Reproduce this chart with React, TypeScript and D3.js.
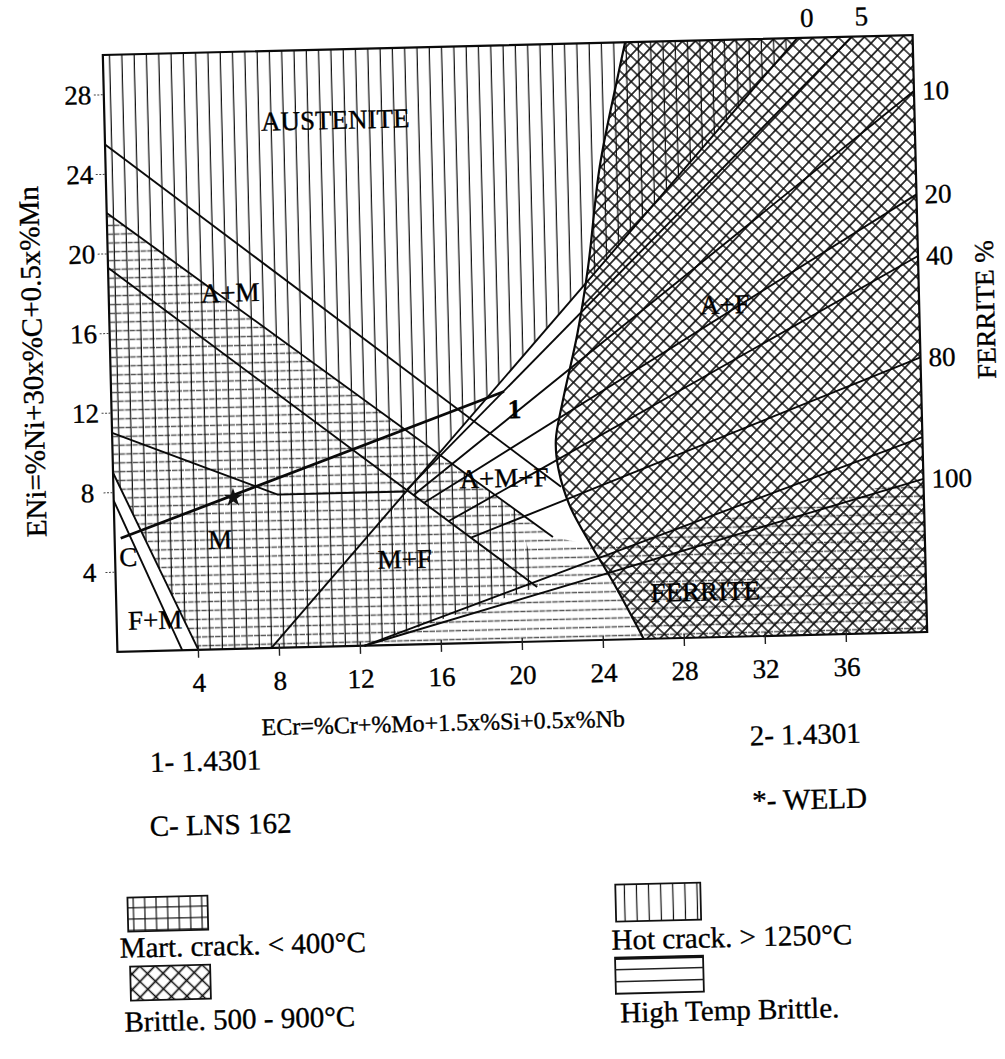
import React, { useRef, useEffect } from 'react';
import * as d3 from 'd3';

// axis ticks
const xTicks = [4, 8, 12, 16, 20, 24, 28, 32, 36];
const yTicks = [4, 8, 12, 16, 20, 24, 28];

// phase boundaries, points as [ECr, ENi]
const austLine = [[0, 25.5], [22.1, 7.75]];
const crackLine = [[0, 22.06], [21.64, 5.23]];
const martLine = [[0, 19.3], [20.8, 2.74]];
const kneeLine = [[0, 11.0], [8.1, 7.7], [14.4, 7.7]];
const fmInner = [[0, 7.6], [3.2, 0]];
const fmOuter = [[0, 9.0], [4.0, 0]];
const bottomLine = [[12.2, 0], [40, 9.8]];

// ferrite % lines
const ferriteLabels = ['0', '5', '10', '20', '40', '80', '100'];
const ferriteFrom = [[7.6, 0], [14.5, 7.8], [14.8, 7.5], [15.3, 7.1], [16.5, 6.15], [17.6, 5.3], [12.2, 0]];
const ferriteTo = [[34.3, 30], [37.0, 30], [40, 27.2], [40, 22.0], [40, 18.9], [40, 13.8], [40, 7.7]];

// hatched zones
const sigmaEdge = [[25.8, 30], [25.4, 28.3], [24.4, 23.8], [23.7, 18.75], [23.1, 15.45], [22.3, 12.1], [21.9, 10.1], [22.0, 8.6], [22.5, 6.8], [23.5, 4.8], [24.5, 3.0], [26, 0]];
const hotZone = [[0, 30], [34.3, 30], [16.09, 9.54], [20.0, 6.5], [20.8, 2.74], [12.2, 0], [4.0, 0], [0, 9.0]];
const martZone = [[0, 22.06], [21.64, 5.23], [23.5, 4.8], [40, 7.7], [40, 0], [4.0, 0], [0, 9.0]];

// weld dilution line C -> 1, weld point
const weldPath = [[0.3, 5.7], [19.4, 12.6]];
const weldPoint = [5.9, 7.6];

const regionNames = ['AUSTENITE', 'A+M', 'A+F', 'A+M+F', 'M', 'M+F', 'C', 'F+M', 'FERRITE', '1'];
const regionAt = [[11.4, 26.45], [6.0, 17.9], [30.4, 16.7], [19.3, 8.25], [5.2, 5.5], [14.3, 4.3], [0.65, 4.75], [1.9, 1.55], [29.1, 2.3], [19.9, 11.7]];

const notes = ['1- 1.4301', '2- 1.4301', 'C- LNS 162', '*- WELD'];
const legendNames = ['Mart. crack. < 400°C', 'Brittle. 500 - 900°C', 'Hot crack. > 1250°C', 'High Temp Brittle.'];

const FONT = '"Liberation Serif", "Times New Roman", serif';

export default function App() {
  const ref = useRef<SVGSVGElement>(null);

  useEffect(() => {
    const svg = d3.select(ref.current);
    svg.selectAll('*').remove();

    const x = d3.scaleLinear().domain([0, 40]).range([110, 920]);
    const y = d3.scaleLinear().domain([0, 30]).range([642, 45]);
    const line = d3.line<number[]>().x(d => x(d[0])).y(d => y(d[1]));
    const smooth = d3.line<number[]>().x(d => x(d[0])).y(d => y(d[1])).curve(d3.curveCatmullRom.alpha(0.5));

    const defs = svg.append('defs');
    const pat = (id, w, h, rot?) => {
      const p = defs.append('pattern').attr('id', id).attr('patternUnits', 'userSpaceOnUse')
        .attr('width', w).attr('height', h);
      if (rot) p.attr('patternTransform', `rotate(${rot})`);
      return p;
    };
    const vp = pat('vert', 12.3, 20);
    vp.append('line').attr('x1', 6).attr('x2', 6).attr('y1', 0).attr('y2', 20).attr('stroke', '#0d0d0d').attr('stroke-width', 1.2);
    const hp = pat('dash', 13, 8.8);
    hp.append('line').attr('x1', 0).attr('x2', 13).attr('y1', 4.4).attr('y2', 4.4)
      .attr('stroke', '#555').attr('stroke-width', 1.4).attr('stroke-dasharray', '5.5 1');
    const cp = pat('cross', 9.2, 9.2, 45);
    cp.append('path').attr('d', 'M4.6,0V9.2M0,4.6H9.2').attr('stroke', '#0d0d0d').attr('stroke-width', 1.6);
    // legend swatch patterns
    const lg = pat('legGrid', 11.4, 11.3);
    lg.append('path').attr('d', 'M5.7,0V11.3M0,5.6H11.4').attr('stroke', '#111').attr('stroke-width', 1.2);
    const lv = pat('legVert', 12.1, 20);
    lv.append('line').attr('x1', 6).attr('x2', 6).attr('y1', 0).attr('y2', 20).attr('stroke', '#111').attr('stroke-width', 1.2);
    const lc = pat('legCross', 11, 11, 45);
    lc.append('path').attr('d', 'M5.5,0V11M0,5.5H11').attr('stroke', '#111').attr('stroke-width', 1.7);

    const g = svg.append('g').attr('transform', 'rotate(-1.4 515 343.5)');

    // zones
    g.append('path').attr('d', line(martZone) + 'Z').attr('fill', 'url(#dash)');
    g.append('path').attr('d', line(hotZone) + 'Z').attr('fill', 'url(#vert)');
    g.append('path').attr('d', smooth(sigmaEdge) + `L${x(40)},${y(0)}L${x(40)},${y(30)}Z`).attr('fill', 'url(#cross)');

    // boundary lines
    const lines = g.append('g').attr('fill', 'none').attr('stroke', '#0a0a0a');
    [austLine, crackLine, martLine, kneeLine, fmInner, fmOuter, bottomLine].forEach(d => {
      lines.append('path').attr('d', line(d)).attr('stroke-width', 1.9);
    });
    ferriteFrom.forEach((d, i) => {
      lines.append('path').attr('d', line([d, ferriteTo[i]])).attr('stroke-width', 1.9);
    });
    lines.append('path').attr('d', smooth(sigmaEdge)).attr('stroke-width', 2.2);
    lines.append('path').attr('d', line(weldPath)).attr('stroke-width', 2.8);

    g.append('path').attr('d', d3.symbol().type(d3.symbolStar).size(110)())
      .attr('transform', `translate(${x(weldPoint[0])},${y(weldPoint[1])})`).attr('fill', '#111');

    // frame
    g.append('rect').attr('x', x(0)).attr('y', y(30)).attr('width', x(40) - x(0)).attr('height', y(0) - y(30))
      .attr('fill', 'none').attr('stroke', '#0a0a0a').attr('stroke-width', 2.2);

    // ticks
    g.append('g').selectAll('line').data(xTicks).join('line')
      .attr('x1', d => x(d)).attr('x2', d => x(d)).attr('y1', y(0) - 4).attr('y2', y(0) + 8)
      .attr('stroke', '#222').attr('stroke-width', 1.4);
    g.append('g').selectAll('line').data(yTicks).join('line')
      .attr('x1', x(0) - 10).attr('x2', x(0)).attr('y1', d => y(d)).attr('y2', d => y(d))
      .attr('stroke', '#444').attr('stroke-width', 1).attr('stroke-dasharray', '2 1.5');

    const text = g.append('g').attr('font-family', FONT).attr('fill', '#000')
      .attr('stroke', '#000').attr('stroke-width', 0.35);
    text.selectAll('.xt').data(xTicks).join('text').attr('class', 'xt')
      .attr('x', d => x(d)).attr('y', y(0) + 42).attr('text-anchor', 'middle').attr('font-size', 27).text(d => d);
    text.selectAll('.yt').data(yTicks).join('text').attr('class', 'yt')
      .attr('x', 84).attr('y', d => y(d) + 9).attr('text-anchor', 'middle').attr('font-size', 27).text(d => d);

    // ferrite % labels
    ferriteTo.forEach((d, i) => {
      const top = d[1] >= 30;
      text.append('text')
        .attr('x', top ? x(d[0]) + 10 : x(40) + 8)
        .attr('y', top ? y(30) - 11 : y(d[1]) + 9)
        .attr('text-anchor', top ? 'middle' : 'start').attr('font-size', 27)
        .text(ferriteLabels[i]);
    });

    // region names
    regionNames.forEach((name, i) => {
      text.append('text').attr('x', x(regionAt[i][0])).attr('y', y(regionAt[i][1]) + 9)
        .attr('text-anchor', 'middle').attr('font-size', 27).attr('font-weight', name === '1' ? 'bold' : 'normal')
        .text(name);
    });

    // axis titles
    text.append('text').attr('transform', 'translate(42,350) rotate(-90)').attr('text-anchor', 'middle')
      .attr('font-size', 29).text('ENi=%Ni+30x%C+0.5x%Mn');
    text.append('text').attr('transform', 'translate(995,321) rotate(-90)').attr('text-anchor', 'middle')
      .attr('font-size', 27).text('FERRITE %');
    text.append('text').attr('x', 434).attr('y', 729).attr('text-anchor', 'middle')
      .attr('font-size', 24).text('ECr=%Cr+%Mo+1.5x%Si+0.5x%Nb');

    // notes
    const noteAt = [[140, 763], [740, 751], [138, 827], [741, 816]];
    notes.forEach((n, i) => {
      text.append('text').attr('x', noteAt[i][0]).attr('y', noteAt[i][1]).attr('font-size', 29).text(n);
    });

    // legend
    const sw = [[114, 888, 80, 34, 'legGrid'], [115, 957, 80, 34, 'legCross'], [602, 887, 85, 37, 'legVert'], [600, 960, 88, 36, '']];
    sw.forEach(s => {
      g.append('rect').attr('x', s[0]).attr('y', s[1]).attr('width', s[2]).attr('height', s[3])
        .attr('fill', s[4] ? `url(#${s[4]})` : 'white').attr('stroke', '#111').attr('stroke-width', 1.8);
    });
    const hb = sw[3];
    [1, 2].forEach(k => {
      g.append('line').attr('x1', hb[0]).attr('x2', +hb[0] + +hb[2])
        .attr('y1', +hb[1] + (+hb[3] * k) / 3).attr('y2', +hb[1] + (+hb[3] * k) / 3)
        .attr('stroke', '#222').attr('stroke-width', 1.5);
    });
    g.append('line').attr('x1', hb[0]).attr('x2', +hb[0] + +hb[2]).attr('y1', +hb[1] + 1).attr('y2', +hb[1] + 1)
      .attr('stroke', '#111').attr('stroke-width', 2.6);
    const legAt = [[105, 948], [108, 1022], [597, 952], [604, 1025]];
    legendNames.forEach((n, i) => {
      text.append('text').attr('x', legAt[i][0]).attr('y', legAt[i][1]).attr('font-size', 29).text(n);
    });
  });

  return (
    <svg ref={ref} width={1005} height={1059}
      style={{ position: 'absolute', left: 0, top: 0, display: 'block', background: 'white' }} />
  );
}
